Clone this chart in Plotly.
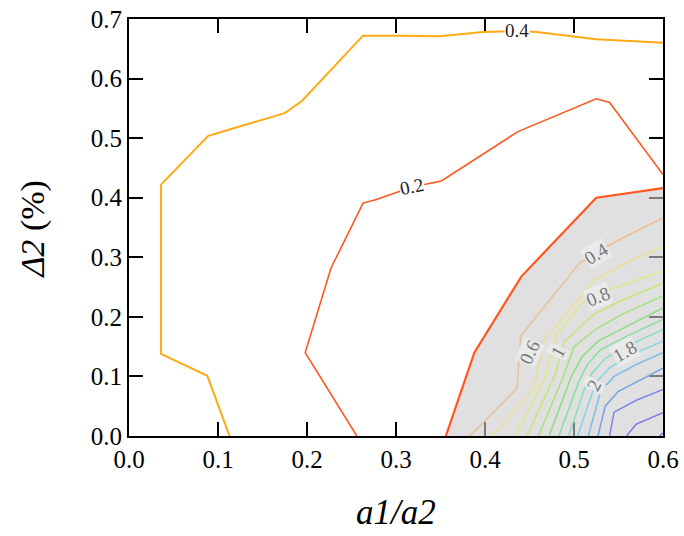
import plotly.graph_objects as go

# ---- contour paths (a1/a2 on x, delta2 on y) ----
outer_04_x = [0.113, 0.088, 0.036, 0.036, 0.089, 0.175, 0.194, 0.263, 0.304, 0.349, 0.398, 0.436, 0.458, 0.525, 0.600]
outer_04_y = [0.000, 0.101, 0.138, 0.422, 0.504, 0.542, 0.562, 0.672, 0.672, 0.671, 0.678, 0.680, 0.678, 0.666, 0.660]

outer_02_x = [0.256, 0.198, 0.227, 0.263, 0.278, 0.318, 0.351, 0.437, 0.525, 0.540, 0.600]
outer_02_y = [0.000, 0.140, 0.282, 0.391, 0.397, 0.418, 0.428, 0.511, 0.566, 0.560, 0.439]

# boundary of the shaded region
shade_x = [0.356, 0.388, 0.441, 0.450, 0.525, 0.600]
shade_y = [0.000, 0.140, 0.268, 0.282, 0.400, 0.416]

# contours inside the shaded region
inner_levels = [0.4, 0.6, 0.8, 1.0, 1.2, 1.4, 1.6, 1.8, 2.0, 2.2, 2.4, 2.6, 2.8, 3.0]
inner_x = [
    [0.600, 0.544, 0.506, 0.440, 0.436, 0.383],
    [0.600, 0.565, 0.523, 0.466, 0.455, 0.408],
    [0.600, 0.544, 0.510, 0.480, 0.468, 0.434],
    [0.600, 0.550, 0.523, 0.490, 0.478, 0.447],
    [0.600, 0.555, 0.525, 0.500, 0.488, 0.460],
    [0.600, 0.560, 0.528, 0.510, 0.497, 0.472],
    [0.600, 0.560, 0.530, 0.515, 0.505, 0.483],
    [0.600, 0.565, 0.535, 0.520, 0.512, 0.494],
    [0.600, 0.570, 0.540, 0.525, 0.520, 0.504],
    [0.600, 0.570, 0.545, 0.530, 0.516],
    [0.600, 0.575, 0.550, 0.535, 0.527],
    [0.600, 0.570, 0.545, 0.540],
    [0.600, 0.570, 0.559],
    [0.600, 0.596],
]
inner_y = [
    [0.366, 0.324, 0.290, 0.168, 0.080, 0.000],
    [0.318, 0.295, 0.262, 0.160, 0.080, 0.000],
    [0.277, 0.248, 0.225, 0.170, 0.100, 0.000],
    [0.257, 0.225, 0.205, 0.160, 0.100, 0.000],
    [0.235, 0.205, 0.180, 0.150, 0.100, 0.000],
    [0.215, 0.185, 0.160, 0.135, 0.100, 0.000],
    [0.196, 0.168, 0.145, 0.120, 0.090, 0.000],
    [0.179, 0.155, 0.130, 0.105, 0.080, 0.000],
    [0.159, 0.140, 0.115, 0.090, 0.070, 0.000],
    [0.140, 0.120, 0.100, 0.075, 0.000],
    [0.114, 0.095, 0.075, 0.050, 0.000],
    [0.078, 0.060, 0.040, 0.000],
    [0.039, 0.020, 0.000],
    [0.005, 0.000],
]
inner_colors = [
    "rgb(232,192,150)", "rgb(236,222,150)", "rgb(222,232,130)", "rgb(196,230,120)",
    "rgb(166,226,120)", "rgb(140,222,130)", "rgb(128,224,160)", "rgb(128,224,192)",
    "rgb(128,214,222)", "rgb(120,190,232)", "rgb(120,160,232)", "rgb(128,132,232)",
    "rgb(140,112,232)", "rgb(160,100,232)",
]

# labelled levels: value, x, y, angle
inner_label_val = [0.4, 0.8, 0.6, 1.0, 1.8, 2.0]
inner_label_x = [0.525, 0.527, 0.450, 0.482, 0.557, 0.523]
inner_label_y = [0.307, 0.235, 0.140, 0.142, 0.142, 0.086]
inner_label_ang = [-32, -22, -65, -62, -30, -62]

outer_label_val = [0.4, 0.2]
outer_label_x = [0.436, 0.318]
outer_label_y = [0.680, 0.418]
outer_label_ang = [0, -12]

x_ticks = [0.0, 0.1, 0.2, 0.3, 0.4, 0.5, 0.6]
y_ticks = [0.0, 0.1, 0.2, 0.3, 0.4, 0.5, 0.6, 0.7]

SERIF = "Liberation Serif, Times New Roman, serif"


def fmt(v):
    return f"{v:g}" if v >= 1 else f"{v:.1f}"


fig = go.Figure()

# shaded region bounded by the red curve, the right edge and the bottom edge
fig.add_trace(go.Scatter(
    x=shade_x + [0.6], y=shade_y + [0.0], mode="lines", fill="toself",
    fillcolor="rgba(204,204,204,0.6)", line=dict(width=0), hoverinfo="skip",
    showlegend=False))

for xs, ys, c in zip(inner_x, inner_y, inner_colors):
    fig.add_trace(go.Scatter(x=xs, y=ys, mode="lines", line=dict(color=c, width=1.5),
                             showlegend=False, hoverinfo="skip"))

fig.add_trace(go.Scatter(x=shade_x, y=shade_y, mode="lines",
                         line=dict(color="rgb(255,88,30)", width=2.2), showlegend=False))
fig.add_trace(go.Scatter(x=outer_02_x, y=outer_02_y, mode="lines",
                         line=dict(color="rgb(255,88,30)", width=1.6), showlegend=False))
fig.add_trace(go.Scatter(x=outer_04_x, y=outer_04_y, mode="lines",
                         line=dict(color="rgb(255,170,20)", width=2), showlegend=False))

annotations = []
for v, x, y, a in zip(inner_label_val, inner_label_x, inner_label_y, inner_label_ang):
    annotations.append(dict(x=x, y=y, xref="x", yref="y", text=fmt(v), showarrow=False,
                            textangle=a, bgcolor="rgba(234,234,234,0.95)", borderpad=0,
                            font=dict(family=SERIF, size=19, color="rgb(120,120,120)")))
for v, x, y, a in zip(outer_label_val, outer_label_x, outer_label_y, outer_label_ang):
    annotations.append(dict(x=x, y=y, xref="x", yref="y", text=fmt(v), showarrow=False,
                            textangle=a, bgcolor="white", borderpad=0,
                            font=dict(family=SERIF, size=19, color="rgb(30,30,30)")))

annotations.append(dict(x=0.5, y=0, xref="paper", yref="paper", yshift=-76,
                        text="<i>a1/a2</i>", showarrow=False, xanchor="center",
                        yanchor="middle", font=dict(family=SERIF, size=35, color="black")))
annotations.append(dict(x=0, y=0.495, xref="paper", yref="paper", xshift=-96,
                        text="<i>Δ2</i> (%)", showarrow=False, textangle=-90,
                        xanchor="center", yanchor="middle",
                        font=dict(family=SERIF, size=34, color="black")))

axis_common = dict(showgrid=False, zeroline=False, showline=True, linecolor="black",
                   linewidth=2, ticks="inside", ticklen=14, tickwidth=2, tickcolor="black",
                   mirror="ticks", layer="below traces", automargin=False,
                   tickfont=dict(family=SERIF, size=25, color="black"))

fig.update_layout(
    width=684, height=536,
    margin=dict(l=129, r=21, t=19, b=100, autoexpand=False),
    paper_bgcolor="white", plot_bgcolor="white",
    xaxis=dict(range=[0, 0.6], tickvals=x_ticks, ticktext=[f"{v:.1f}" for v in x_ticks],
               **axis_common),
    yaxis=dict(range=[0, 0.7], tickvals=y_ticks, ticktext=[f"{v:.1f}" for v in y_ticks],
               **axis_common),
    annotations=annotations,
)

fig.write_html("out.html")
